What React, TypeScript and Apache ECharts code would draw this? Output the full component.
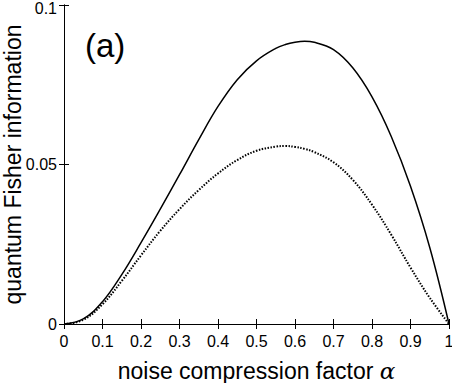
import React, { useEffect, useRef } from "react";
import * as echarts from "echarts";

const alpha = [0, 0.05, 0.1, 0.15, 0.2, 0.25, 0.3, 0.35, 0.4, 0.45, 0.5, 0.55, 0.575, 0.6, 0.625, 0.65, 0.7, 0.75, 0.8, 0.85, 0.9, 0.95, 1];
const solidQFI = [0, 0.0016, 0.0070, 0.0155, 0.0255, 0.0360, 0.0468, 0.0578, 0.0682, 0.0766, 0.0825, 0.0864, 0.0876, 0.0883, 0.0886, 0.0883, 0.0860, 0.0803, 0.0712, 0.0588, 0.0432, 0.0240, 0];
const dottedQFI = [0, 0.0013, 0.0062, 0.0135, 0.0215, 0.0292, 0.0360, 0.0420, 0.0472, 0.0514, 0.0543, 0.0556, 0.0558, 0.0555, 0.0549, 0.0539, 0.0507, 0.0452, 0.0374, 0.0280, 0.0177, 0.0082, 0];

const FONT = "Liberation Sans, Arial, Helvetica, sans-serif";

export default function App() {
  const ref = useRef<HTMLDivElement>(null);
  useEffect(() => {
    const chart = echarts.init(ref.current!, null, { renderer: "svg" });
    const axisCommon = {
      axisLine: { show: true, lineStyle: { color: "#000", width: 1 } },
      axisTick: { show: true, inside: true, length: 5, lineStyle: { color: "#000" } },
      splitLine: { show: false },
    };
    chart.setOption({
      animation: false,
      backgroundColor: "#fff",
      grid: { left: 64, right: 3, top: 5, bottom: 59, containLabel: false, outerBoundsMode: "none" },
      xAxis: [
        {
          type: "value", min: 0, max: 1, interval: 0.1, position: "bottom",
          ...axisCommon,
          axisLabel: { color: "#000", fontSize: 16, fontFamily: FONT, margin: 9 },
          name: "noise compression factor {a|α}",
          nameLocation: "middle", nameGap: 35, nameMoveOverlap: false,
          nameTextStyle: {
            color: "#000", fontSize: 23, fontFamily: FONT,
            rich: { a: { fontSize: 23, fontStyle: "italic", fontFamily: "DejaVu Serif, serif", color: "#000" } },
          },
        },
        {
          type: "value", min: 0, max: 1, interval: 0.1, position: "top",
          ...axisCommon, axisLabel: { show: false },
        },
      ],
      yAxis: [
        {
          type: "value", min: 0, max: 0.1, interval: 0.05, position: "left",
          ...axisCommon,
          axisLabel: {
            color: "#000", fontSize: 16, fontFamily: FONT, margin: 7,
            formatter: (v: number) => (v >= 0.1 ? "{t|" + String(v) + "}" : String(v)),
            rich: { t: { color: "#000", fontSize: 16, fontFamily: FONT, padding: [7, 0, 0, 0] } },
          },
          name: "quantum Fisher information",
          nameLocation: "middle", nameGap: 40, nameMoveOverlap: false,
          nameTextStyle: { color: "#000", fontSize: 23, fontFamily: FONT },
        },
        {
          type: "value", min: 0, max: 0.1, interval: 0.05, position: "right",
          ...axisCommon, axisLabel: { show: false },
        },
      ],
      graphic: [
        {
          type: "text", left: 85, top: 29,
          style: { text: "(a)", fontSize: 33, fontFamily: FONT, fill: "#000" },
        },
      ],
      series: [
        {
          type: "line", smooth: 0.4, showSymbol: false,
          data: alpha.map((a, i) => [a, solidQFI[i]]),
          lineStyle: { color: "#000", width: 1.5, type: "solid" },
        },
        {
          type: "line", smooth: 0.4, showSymbol: false,
          data: alpha.map((a, i) => [a, dottedQFI[i]]),
          lineStyle: { color: "#000", width: 2, type: [1.5, 1.5] },
        },
      ],
    });
    return () => chart.dispose();
  }, []);
  return <div ref={ref} style={{ position: "fixed", left: 0, top: 0, width: 452, height: 383 }} />;
}
